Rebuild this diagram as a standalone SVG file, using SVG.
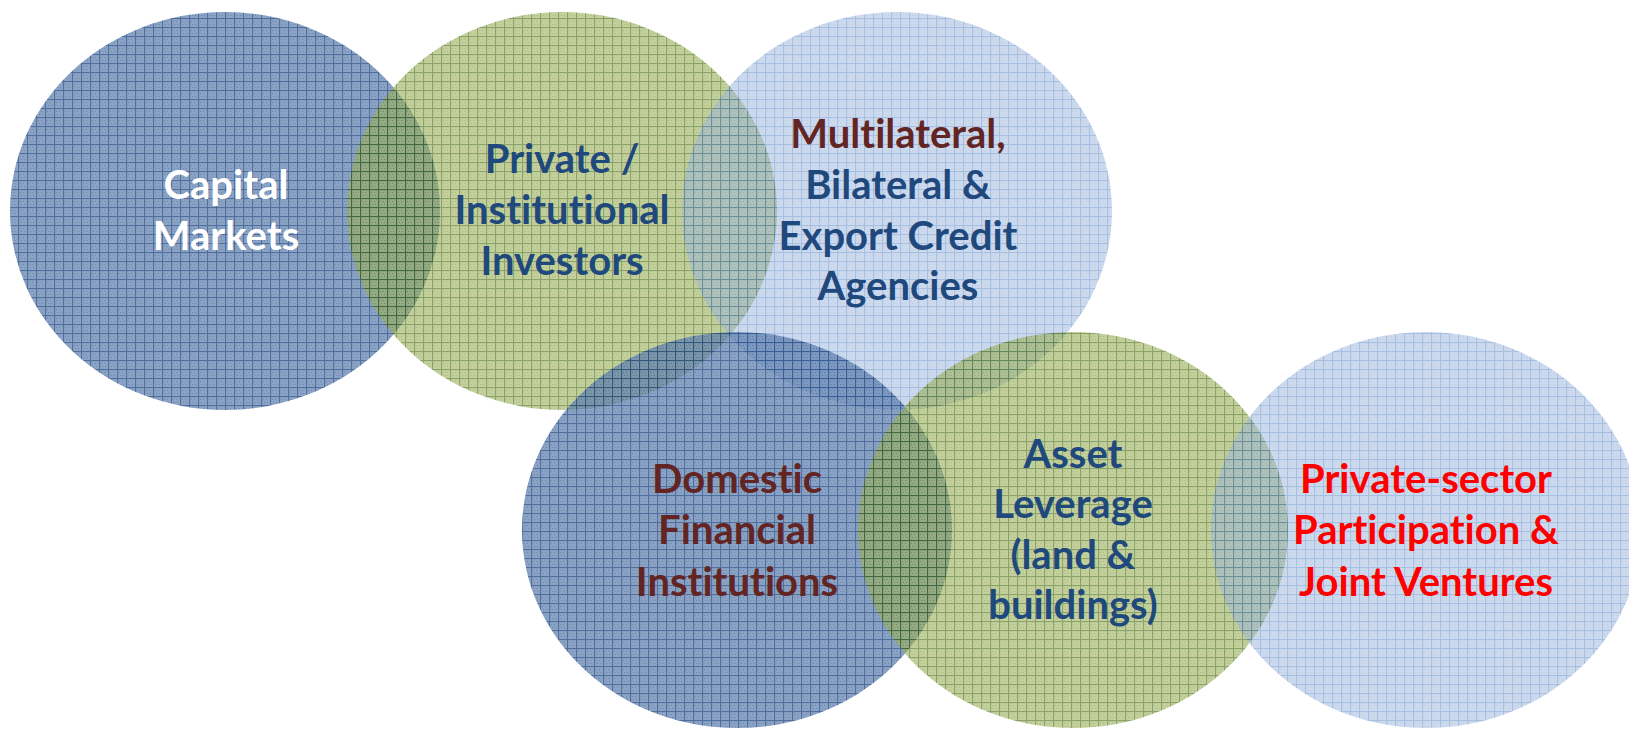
<svg xmlns="http://www.w3.org/2000/svg" width="1629" height="730" viewBox="0 0 1629 730">
  <defs>
    <pattern id="pDark" width="9" height="9" patternUnits="userSpaceOnUse">
      <rect width="9" height="9" fill="#6383B0"/>
      <rect x="2" y="3" width="1" height="1" fill="#3A5E94"/>
      <rect x="5" y="3" width="1" height="1" fill="#3A5E94"/>
      <rect x="3" y="6" width="1" height="1" fill="#3A5E94"/>
      <rect x="6" y="6" width="1" height="1" fill="#3A5E94"/>
      <rect width="9" height="1.1" fill="#163F7C"/>
      <rect width="1.1" height="9" fill="#163F7C"/>
    </pattern>
    <pattern id="pGreen" width="9" height="9" patternUnits="userSpaceOnUse">
      <rect width="9" height="9" fill="#9BB158"/>
      <rect x="2" y="3" width="1" height="1" fill="#738F2E"/>
      <rect x="5" y="3" width="1" height="1" fill="#738F2E"/>
      <rect x="3" y="6" width="1" height="1" fill="#738F2E"/>
      <rect x="6" y="6" width="1" height="1" fill="#738F2E"/>
      <rect width="9" height="1.1" fill="#3D6408"/>
      <rect width="1.1" height="9" fill="#3D6408"/>
    </pattern>
    <pattern id="pLight" width="9" height="9" patternUnits="userSpaceOnUse">
      <rect width="9" height="9" fill="#9BB5DD"/>
      <rect x="2" y="3" width="1" height="1" fill="#7D9DD1"/>
      <rect x="5" y="3" width="1" height="1" fill="#7D9DD1"/>
      <rect x="3" y="6" width="1" height="1" fill="#7D9DD1"/>
      <rect x="6" y="6" width="1" height="1" fill="#7D9DD1"/>
      <rect width="9" height="1.1" fill="#4F7EC2"/>
      <rect width="1.1" height="9" fill="#4F7EC2"/>
    </pattern>
  </defs>
  <style>
    .dark { fill: url(#pDark); opacity: 0.75; }
    .green { fill: url(#pGreen); opacity: 0.6; }
    .light { fill: url(#pLight); opacity: 0.5; }
    text { font-family: Lato, "Open Sans", "Liberation Sans", sans-serif; font-weight: bold; font-size: 40px; text-anchor: middle; font-variant-ligatures: none; font-feature-settings: "liga" 0, "clig" 0, "dlig" 0; }
    .tw { fill: #FFFFFF; }
    .tb { fill: #1F497D; }
    .tr { fill: #632523; }
    .tred { fill: #FF0000; }
  </style>
  <rect width="1629" height="730" fill="#FFFFFF"/>

  <g id="capital-markets">
    <ellipse class="dark" cx="225" cy="211" rx="215" ry="199"/>
    <text class="tw" x="226" y="199">Capital</text>
    <text class="tw" x="226" y="250">Markets</text>
  </g>

  <g id="private-institutional-investors">
    <ellipse class="green" cx="562" cy="211" rx="215" ry="199"/>
    <text class="tb" x="562" y="173">Private /</text>
    <text class="tb" x="562" y="224">Institutional</text>
    <text class="tb" x="562" y="275">Investors</text>
  </g>

  <g id="multilateral-agencies">
    <ellipse class="light" cx="897" cy="211" rx="215" ry="199"/>
    <text class="tr" x="898" y="148">Multilateral,</text>
    <text class="tb" x="898" y="199">Bilateral &amp;</text>
    <text class="tb" x="898" y="250">Export Credit</text>
    <text class="tb" x="898" y="300">Agencies</text>
  </g>

  <g id="domestic-financial-institutions">
    <ellipse class="dark" cx="737" cy="530" rx="215" ry="198"/>
    <text class="tr" x="737" y="493">Domestic</text>
    <text class="tr" x="737" y="544">Financial</text>
    <text class="tr" x="737" y="596">Institutions</text>
  </g>

  <g id="asset-leverage">
    <ellipse class="green" cx="1073" cy="530" rx="215" ry="198"/>
    <text class="tb" x="1073" y="468">Asset</text>
    <text class="tb" x="1073" y="518">Leverage</text>
    <text class="tb" x="1073" y="569">(land &amp;</text>
    <text class="tb" x="1073" y="619">buildings)</text>
  </g>

  <g id="private-sector-participation">
    <ellipse class="light" cx="1426" cy="530" rx="215" ry="198"/>
    <text class="tred" x="1426" y="493">Private-sector</text>
    <text class="tred" x="1426" y="544">Participation &amp;</text>
    <text class="tred" x="1426" y="596">Joint Ventures</text>
  </g>
</svg>
